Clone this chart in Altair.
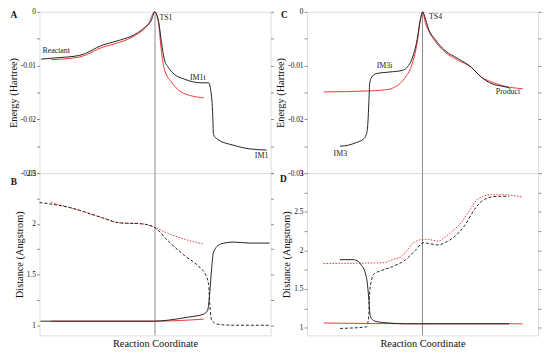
import altair as alt
import pandas as pd

# ---------------- data ----------------
# Panel A: energy along path 1
a_black_x = [0.7, 6.0, 17.4, 27.2, 34.5, 41.3, 45.5, 48.5, 49.8, 51.5, 52.8, 54.0, 55.7, 58.3, 62.6, 69.8, 73.2, 74.0, 74.9, 75.3, 77.0, 83.8, 91.1, 98.3]
a_black_y = [-0.0088, -0.0086, -0.0081, -0.0062, -0.0053, -0.0042, -0.0029, -0.0015, 0.0, -0.0017, -0.0057, -0.0088, -0.0103, -0.0116, -0.0125, -0.0132, -0.0132, -0.0143, -0.0185, -0.0228, -0.0237, -0.0248, -0.0255, -0.0257]
a_red_x = [5.1, 17.4, 27.2, 34.5, 41.3, 47.2, 49.8, 51.5, 52.8, 54.0, 57.0, 61.3, 65.5, 71.1]
a_red_y = [-0.0089, -0.0084, -0.0066, -0.0057, -0.0044, -0.0022, 0.0, -0.0020, -0.0075, -0.0106, -0.0130, -0.0149, -0.0156, -0.0160]

# Panel B: distances along path 1
b_red_up_x = [5.1, 13.2, 27.2, 34.5, 44.3, 49.8, 55.7, 62.6, 71.1]
b_red_up_y = [2.21, 2.16, 2.06, 2.01, 2.00, 1.965, 1.905, 1.85, 1.80]
b_blk_up_x = [0.0, 13.2, 27.2, 34.5, 44.3, 49.8, 55.7, 62.6, 69.8, 71.9, 73.2, 73.6, 74.5, 77.0, 83.8, 99.6]
b_blk_up_y = [2.21, 2.16, 2.06, 2.01, 2.00, 1.965, 1.83, 1.69, 1.56, 1.50, 1.40, 1.24, 1.05, 1.01, 1.00, 1.00]
b_blk_lo_x = [0.4, 49.8, 55.7, 64.3, 71.1, 72.8, 73.6, 74.5, 75.3, 78.3, 83.8, 91.1, 99.6]
b_blk_lo_y = [1.04, 1.04, 1.05, 1.08, 1.11, 1.15, 1.30, 1.56, 1.72, 1.80, 1.82, 1.81, 1.81]
b_red_lo_x = [5.1, 49.8, 71.1]
b_red_lo_y = [1.04, 1.04, 1.06]

# Panel C: energy along path 2
c_red_x = [7.2, 27.1, 35.6, 38.4, 40.6, 42.7, 45.5, 47.7, 49.1, 50.1, 51.2, 52.6, 55.4, 59.7, 65.4, 71.1, 75.3, 79.6, 85.2, 93.3]
c_red_y = [-0.0149, -0.0147, -0.0144, -0.0139, -0.0132, -0.0121, -0.0097, -0.0057, -0.0014, 0.0, -0.0020, -0.0035, -0.0054, -0.0075, -0.0090, -0.0103, -0.0121, -0.0130, -0.0138, -0.0143]
c_black_x = [14.3, 17.9, 21.4, 24.3, 25.7, 26.4, 26.8, 27.1, 27.8, 29.9, 35.6, 41.3, 43.4, 45.5, 47.7, 49.1, 50.1, 50.9, 52.6, 55.4, 59.7, 65.4, 71.1, 75.3, 79.6, 85.2, 87.4]
c_black_y = [-0.0250, -0.0248, -0.0243, -0.0237, -0.0228, -0.0204, -0.0167, -0.0136, -0.0123, -0.0115, -0.0112, -0.0109, -0.0103, -0.0087, -0.0051, -0.0014, 0.0, -0.0008, -0.0032, -0.0051, -0.0072, -0.0087, -0.0103, -0.0121, -0.0133, -0.0139, -0.0141]

# Panel D: distances along path 2
d_red_up_x = [7.2, 32.8, 37.0, 41.3, 44.1, 45.5, 49.8, 52.6, 56.9, 59.7, 62.6, 66.8, 69.7, 73.9, 79.6, 85.2, 93.3]
d_red_up_y = [1.83, 1.84, 1.88, 1.93, 2.03, 2.08, 2.14, 2.14, 2.12, 2.17, 2.24, 2.36, 2.49, 2.66, 2.72, 2.72, 2.69]
d_blk_up_x = [14.3, 25.7, 26.7, 27.1, 27.8, 29.2, 31.4, 37.0, 42.7, 46.9, 50.5, 52.6, 56.9, 59.7, 62.6, 68.2, 72.5, 76.7, 82.4, 87.4]
d_blk_up_y = [0.99, 1.01, 1.14, 1.43, 1.60, 1.70, 1.73, 1.79, 1.88, 2.00, 2.10, 2.09, 2.07, 2.10, 2.15, 2.32, 2.53, 2.66, 2.70, 2.70]
d_blk_lo_x = [14.3, 20.0, 22.1, 23.5, 25.0, 26.0, 26.7, 27.1, 27.8, 29.9, 35.6, 42.7, 56.9, 87.4]
d_blk_lo_y = [1.88, 1.88, 1.86, 1.81, 1.73, 1.60, 1.39, 1.22, 1.12, 1.08, 1.06, 1.05, 1.05, 1.05]
d_red_lo_x = [7.2, 49.8, 93.3]
d_red_lo_y = [1.06, 1.05, 1.05]

# annotations
a_lab_text = ["Reactant", "TS1", "IM1t", "IM1"]
a_lab_x = [1.3, 51.9, 65.1, 93.2]
a_lab_y = [-0.0073, -0.0011, -0.0123, -0.0268]
c_lab_text = ["IM3", "IM3i", "TS4", "Product"]
c_lab_x = [11.5, 30.2, 52.8, 81.7]
c_lab_y = [-0.0264, -0.0101, -0.0009, -0.0150]

energy_ticks = [0, -0.005, -0.01, -0.015, -0.02, -0.025, -0.03]
b_ticks = [1, 1.25, 1.5, 1.75, 2, 2.25, 2.5]
d_ticks = [1, 1.25, 1.5, 1.75, 2, 2.25, 2.5, 2.75, 3]

# ---------------- styling ----------------
FONT = "Liberation Serif"
GRAY = "#8c8c8c"
BLACK = "#222222"
RED = "#ee3535"
W, H_TOP, H_BOT = 235, 164, 165

xscale = alt.Scale(domain=[0, 100], nice=False, zero=False)
XAXIS_BOTTOM = alt.Axis(title="Reaction Coordinate", labels=False, ticks=False, domain=False, grid=False,
                        titleFont=FONT, titleFontSize=10.5, titleFontWeight="normal", titleColor="#111",
                        titlePadding=3)

MAJOR_E = "round(datum.value*1000) % 10 == 0 ? (datum.value < 0 ? '-' : '') + format(abs(datum.value), '~g') : ''"
MAJOR_D = "datum.value*2 == round(datum.value*2) ? format(datum.value, '~g') : ''"


def left_axis(title, values, expr):
    return alt.Axis(title=title, values=values, labelExpr=expr, domain=False, grid=False,
                    tickColor=GRAY, tickSize=3, labelFont=FONT, labelFontSize=7.5, labelColor="#111",
                    labelPadding=1, titleFont=FONT, titleFontSize=10.5, titleFontWeight="normal",
                    titleColor="#111", titlePadding=2)


def right_axis(values):
    return alt.Axis(orient="right", title="", values=values, labels=False, domain=False, grid=False,
                    tickColor=GRAY, tickSize=3)


def line(xs, ys, color, yscale, xaxis, dash=None, yaxis=None):
    df = pd.DataFrame({"x": xs, "y": ys})
    kw = dict(color=color, strokeWidth=1, interpolate="monotone")
    if dash is not None:
        kw["strokeDash"] = dash
    return alt.Chart(df).mark_line(**kw).encode(
        x=alt.X("x:Q", scale=xscale, axis=xaxis),
        y=alt.Y("y:Q", scale=yscale, axis=yaxis),
    )


def vline(xaxis):
    return alt.Chart(pd.DataFrame({"v": [50]})).mark_rule(color=GRAY, strokeWidth=1).encode(
        x=alt.X("v:Q", scale=xscale, axis=xaxis),
    )


def letter(ch, dx, dy):
    return alt.Chart(pd.DataFrame({"t": [ch]})).mark_text(
        font=FONT, fontSize=9.5, fontWeight="bold", color="#111", align="center", baseline="middle"
    ).encode(text="t:N", x=alt.value(dx), y=alt.value(dy))


def labels(texts, xs, ys, yscale, xaxis):
    df = pd.DataFrame({"t": texts, "x": xs, "y": ys})
    return alt.Chart(df).mark_text(font=FONT, fontSize=8, color="#222", align="left", baseline="middle").encode(
        x=alt.X("x:Q", scale=xscale, axis=xaxis),
        y=alt.Y("y:Q", scale=yscale, axis=None),
        text="t:N",
    )


e_scale = alt.Scale(domain=[-0.03, 0], nice=False, zero=False)
b_scale = alt.Scale(domain=[0.9, 2.5], nice=False, zero=False)
d_scale = alt.Scale(domain=[0.9, 3.0], nice=False, zero=False)

# Panel A
A = alt.layer(
    vline(None),
    line(a_red_x, a_red_y, RED, e_scale, None, yaxis=left_axis("Energy (Hartree)", energy_ticks, MAJOR_E)),
    line(a_black_x, a_black_y, BLACK, e_scale, None, yaxis=right_axis(energy_ticks)),
    labels(a_lab_text, a_lab_x, a_lab_y, e_scale, None),
    letter("A", -26, 3),
).resolve_axis(y="independent").properties(width=W, height=H_TOP)

# Panel B
B = alt.layer(
    vline(XAXIS_BOTTOM),
    line(b_red_up_x, b_red_up_y, RED, b_scale, XAXIS_BOTTOM, dash=[1.5, 1.5],
         yaxis=left_axis("Distance (Angstrom)", b_ticks, MAJOR_D)),
    line(b_blk_up_x, b_blk_up_y, BLACK, b_scale, XAXIS_BOTTOM, dash=[3, 2], yaxis=right_axis(b_ticks)),
    line(b_red_lo_x, b_red_lo_y, RED, b_scale, XAXIS_BOTTOM),
    line(b_blk_lo_x, b_blk_lo_y, BLACK, b_scale, XAXIS_BOTTOM),
    letter("B", -26, 9),
).resolve_axis(y="independent").properties(width=W, height=H_BOT)

# Panel C
C = alt.layer(
    vline(None),
    line(c_red_x, c_red_y, RED, e_scale, None, yaxis=left_axis("Energy (Hartree)", energy_ticks, MAJOR_E)),
    line(c_black_x, c_black_y, BLACK, e_scale, None, yaxis=right_axis(energy_ticks)),
    labels(c_lab_text, c_lab_x, c_lab_y, e_scale, None),
    letter("C", -23, 3),
).resolve_axis(y="independent").properties(width=W, height=H_TOP)

# Panel D
D = alt.layer(
    vline(XAXIS_BOTTOM),
    line(d_red_up_x, d_red_up_y, RED, d_scale, XAXIS_BOTTOM, dash=[1.5, 1.5],
         yaxis=left_axis("Distance (Angstrom)", d_ticks, MAJOR_D)),
    line(d_blk_up_x, d_blk_up_y, BLACK, d_scale, XAXIS_BOTTOM, dash=[3, 2], yaxis=right_axis(d_ticks)),
    line(d_red_lo_x, d_red_lo_y, RED, d_scale, XAXIS_BOTTOM),
    line(d_blk_lo_x, d_blk_lo_y, BLACK, d_scale, XAXIS_BOTTOM),
    letter("D", -24, 6),
).resolve_axis(y="independent").properties(width=W, height=H_BOT)

chart = alt.concat(
    A, C, B, D, columns=2, spacing=alt.RowColnumber(row=0, column=37), bounds="flush"
).properties(
    padding={"left": -1, "top": -4, "right": 0, "bottom": 0}
).configure_view(stroke=GRAY, strokeWidth=1).configure_axis(
    labelFont=FONT, titleFont=FONT
).configure(background="white", font=FONT)

chart.save("out.html", embed_options={"renderer": "svg", "actions": False})
